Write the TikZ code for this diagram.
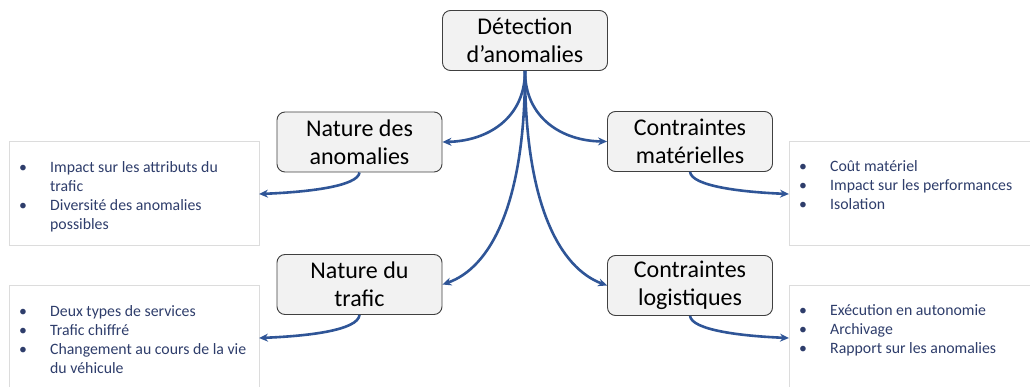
\documentclass[tikz,border=0pt]{standalone}
\usepackage{fontspec}
\setmainfont{Carlito}
\usetikzlibrary{arrows.meta}
\definecolor{conn}{HTML}{2F5597}
\definecolor{boxfill}{HTML}{F2F2F2}
\definecolor{boxline}{HTML}{404040}
\definecolor{listtext}{HTML}{2E3D6B}
\definecolor{listline}{HTML}{DCDCDC}
\newcommand{\mybul}{\textbullet}
\begin{document}
\begin{tikzpicture}[x=1pt,y=-1pt,
  mainbox/.style={draw=boxline, line width=0.9pt, fill=boxfill, rounded corners=8pt,
    minimum width=165pt, minimum height=60pt, align=center, inner sep=0pt,
    font=\fontsize{24}{28}\selectfont},
  listbox/.style={draw=listline, line width=1pt, fill=white, inner sep=0pt},
  listtxt/.style={anchor=north west, inner sep=0pt, text=listtext,
    font=\fontsize{15.8}{19}\selectfont},
  conn/.style={draw=conn, line width=2.6pt, -{Stealth[length=9pt,width=8pt]}},
  sub/.style={draw=conn, line width=2.6pt, -{Stealth[length=9pt,width=8pt]}}
]
\useasboundingbox (0,0) rectangle (1030,387);
\fill[white] (0,0) rectangle (1030,387);

% list boxes
\draw[listbox] (9,142) rectangle (259,246);
\draw[listbox] (789,142) rectangle (1045,246);
\draw[listbox] (9,285) rectangle (259,400);
\draw[listbox] (789,285) rectangle (1045,400);
\coordinate (ta) at (259,194);
\coordinate (tm) at (789,194);
\coordinate (tt) at (259,338);
\coordinate (tl) at (789,338);

% main boxes
\node[mainbox] (top) at (525,40.5) {Détection\\d’anomalies};
\node[mainbox] (na) at (359.5,142) {Nature des\\anomalies};
\node[mainbox] (cm) at (690,141.5) {Contraintes\\matérielles};
\node[mainbox] (nt) at (359.5,284.5) {Nature du\\trafic};
\node[mainbox] (cl) at (690,285.5) {Contraintes\\logistiques};

% list texts
\node[listtxt] (la) at (19,159) {\renewcommand{\arraystretch}{1}\begin{tabular}{@{}p{31pt}@{}l@{}}
\mybul & Impact sur les attributs du\\ & trafic\\
\mybul & Diversité des anomalies\\ & possibles\end{tabular}};
\node[listtxt] (lm) at (799,158.5) {\renewcommand{\arraystretch}{1}\begin{tabular}{@{}p{31pt}@{}l@{}}
\mybul & Coût matériel\\
\mybul & Impact sur les performances\\
\mybul & Isolation\end{tabular}};
\node[listtxt] (lt) at (19,302.5) {\renewcommand{\arraystretch}{1}\begin{tabular}{@{}p{31pt}@{}l@{}}
\mybul & Deux types de services\\
\mybul & Trafic chiffré\\
\mybul & Changement au cours de la vie\\ & du véhicule\end{tabular}};
\node[listtxt] (ll) at (799,302) {\renewcommand{\arraystretch}{1}\begin{tabular}{@{}p{31pt}@{}l@{}}
\mybul & Exécution en autonomie\\
\mybul & Archivage\\
\mybul & Rapport sur les anomalies\end{tabular}};

% main connectors
\draw[conn] (top.south) .. controls (525,118) and (488,141) .. (na.east);
\draw[conn] (top.south) .. controls (525,118) and (562,141) .. (cm.west);
\draw[conn] (top.south) .. controls (525,205) and (490,268) .. (nt.east);
\draw[conn] (top.south) .. controls (525,205) and (560,268) .. (cl.west);

% sub connectors
\draw[sub] (na.south) .. controls (358,186) and (310,192) .. (ta);
\draw[sub] (cm.south) .. controls (692,186) and (740,192) .. (tm);
\draw[sub] (nt.south) .. controls (358,330) and (310,336) .. (tt);
\draw[sub] (cl.south) .. controls (692,330) and (740,336) .. (tl);
\end{tikzpicture}
\end{document}
